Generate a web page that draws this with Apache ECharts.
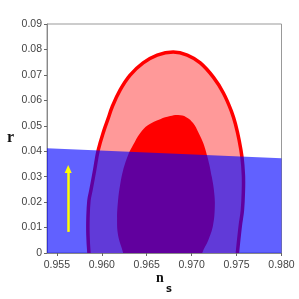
<!DOCTYPE html>
<html><head><meta charset="utf-8">
<script src="https://cdn.jsdelivr.net/npm/echarts@6/dist/echarts.min.js"></script>
<style>html,body{margin:0;padding:0;background:#fff}#c{width:299px;height:299px}</style>
</head><body><div id="c"></div>
<script>
// tick labels
const xTicks = [0.955, 0.960, 0.965, 0.970, 0.975, 0.980];
const yTicks = [0, 0.01, 0.02, 0.03, 0.04, 0.05, 0.06, 0.07, 0.08, 0.09];
// 95% contour (outer), ns and r
const outerNs = [0.9587,0.95857,0.95846,0.95846,0.95857,0.95879,0.95920,0.95960,0.96025,0.96072,0.96114,0.96203,0.96315,0.96460,0.96616,0.96795,0.96951,0.97096,0.97241,0.97353,0.97445,0.97490,0.97528,0.97560,0.97576,0.97576,0.97565,0.97542,0.97509,0.9750];
const outerR  = [-0.004,0,0.0070,0.0137,0.0207,0.0247,0.0325,0.0404,0.0483,0.0530,0.0573,0.0640,0.0699,0.0747,0.0778,0.0790,0.0778,0.0747,0.0691,0.0629,0.0555,0.0503,0.0444,0.0377,0.0306,0.0247,0.0168,0.0109,0,-0.004];
// 68% contour (inner)
const innerNs = [0.9625,0.96237,0.96181,0.96170,0.96181,0.96203,0.96237,0.96292,0.96348,0.96426,0.96516,0.96650,0.96761,0.96850,0.96940,0.97018,0.97074,0.97129,0.97185,0.97225,0.97248,0.97258,0.97238,0.97185,0.97118,0.9710];
const innerR  = [-0.004,0,0.0070,0.0137,0.0207,0.0266,0.0325,0.0384,0.0424,0.0471,0.0503,0.0526,0.0538,0.0542,0.0534,0.0510,0.0475,0.0432,0.0365,0.0298,0.0247,0.0188,0.0109,0.0050,0,-0.004];
// blue band
const blueNs = [0.9539, 0.9539, 0.980, 0.980];
const blueR  = [0, 0.0412, 0.0372, 0];
// arrow
const arrowNs = [0.95626, 0.95626];
const arrowR  = [0.0083, 0.0330];

const X_MIN = 0.9539, X_MAX = 0.980;

function polySeries(ns, r, style, z, smooth) {
  return {
    type: 'custom', clip: true, z: z, silent: true,
    data: [[ns[0], r[0]]],
    renderItem: function (params, api) {
      const pts = ns.map((x, i) => api.coord([x, r[i]]));
      return { type: 'polygon', shape: { points: pts, smooth: smooth }, style: style };
    }
  };
}

const chart = echarts.init(document.getElementById('c'));
const lblFont = { color: '#444', fontFamily: 'Liberation Sans', fontSize: 10.5 };
chart.setOption({
  animation: false,
  grid: { left: 47, right: 17.5, top: 24, bottom: 46, show: true, borderColor: '#999', borderWidth: 1, backgroundColor: 'transparent' },
  xAxis: {
    type: 'value', min: X_MIN, max: X_MAX,
    splitLine: { show: false },
    axisLine: { onZero: false, lineStyle: { color: '#888' } },
    axisTick: { customValues: xTicks, length: 3, lineStyle: { color: '#666' } },
    axisLabel: Object.assign({ customValues: xTicks, margin: 7, formatter: v => v.toFixed(3) }, lblFont)
  },
  yAxis: {
    type: 'value', min: 0, max: 0.09, interval: 0.01,
    splitLine: { show: false },
    axisLine: { show: true, lineStyle: { color: '#888' } },
    axisTick: { show: true, length: 3, lineStyle: { color: '#666' } },
    axisLabel: Object.assign({ margin: 5, formatter: v => v === 0 ? '0' : v.toFixed(2) }, lblFont)
  },
  graphic: [
    { type: 'text', left: 7, top: 130, style: { text: 'r', font: 'bold 16px "Liberation Serif"', fill: '#111' } },
    { type: 'text', left: 156, top: 271, style: { text: 'n', font: 'bold 14px "Liberation Serif"', fill: '#111' } },
    { type: 'text', left: 166, top: 284, style: { text: 's', font: 'bold 10px "DejaVu Sans"', fill: '#111' } }
  ],
  series: [
    polySeries(outerNs, outerR, { fill: '#ff9999', stroke: '#ff0000', lineWidth: 3.5 }, 1, 0.4),
    polySeries(innerNs, innerR, { fill: '#ff0000' }, 2, 0.4),
    polySeries(blueNs, blueR, { fill: 'rgba(0,0,255,0.62)' }, 3, 0),
    {
      type: 'line', data: [], z: 5,
      markLine: {
        silent: true, animation: false,
        symbol: ['none', 'triangle'], symbolSize: [7, 8],
        label: { show: false },
        lineStyle: { color: '#ffff00', width: 2.5, type: 'solid' },
        data: [[{ coord: [arrowNs[0], arrowR[0]] }, { coord: [arrowNs[1], arrowR[1]] }]]
      }
    }
  ]
});
</script></body></html>
